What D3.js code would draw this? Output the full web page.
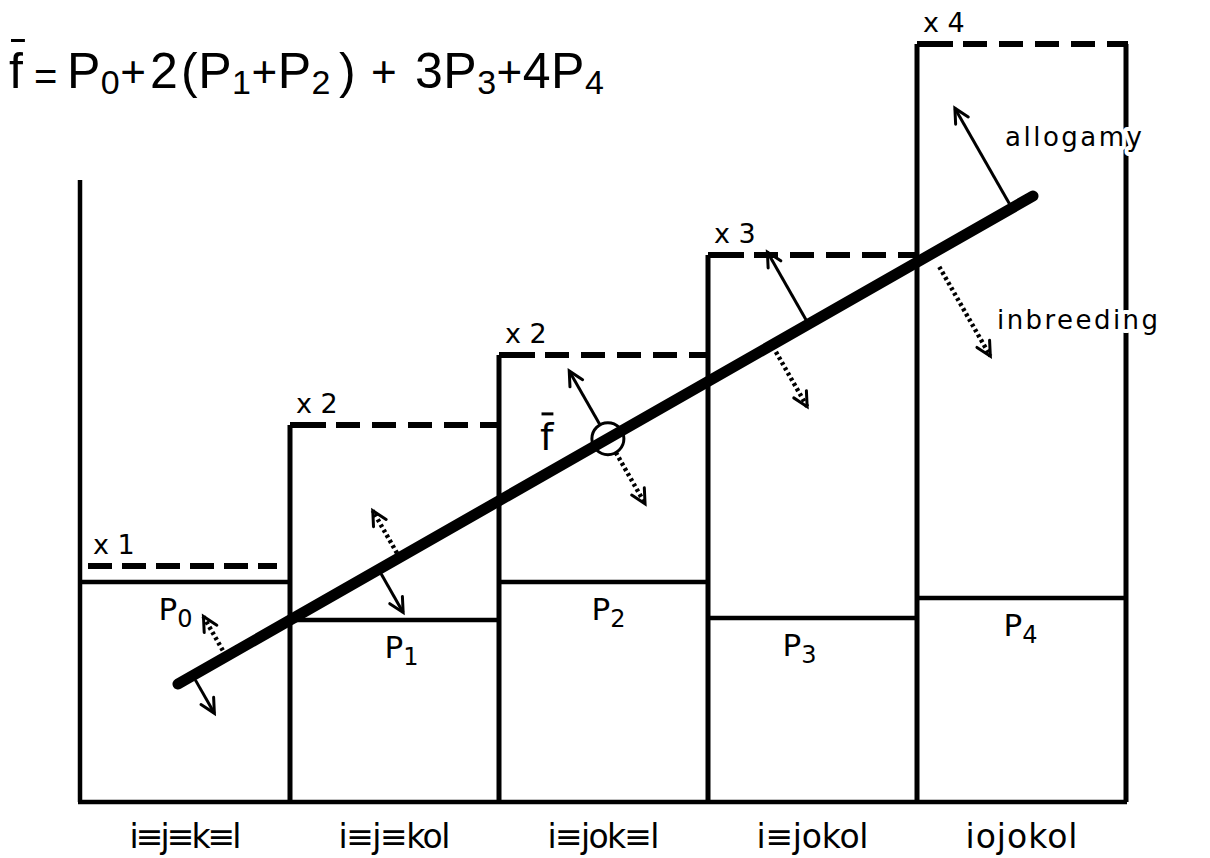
<!DOCTYPE html>
<html>
<head>
<meta charset="utf-8">
<script src="https://cdn.jsdelivr.net/npm/d3@7"></script>
<style>
  html, body { margin: 0; padding: 0; background: #fff; }
  svg { display: block; }
  text { font-family: "DejaVu Sans", sans-serif; fill: #000; }
  text.formula { font-family: "Liberation Sans", Arial, sans-serif; }
</style>
</head>
<body>
<div id="chart"></div>
<script>
// identity classes along the bottom
const categories = ['i≡j≡k≡l', 'i≡j≡kol', 'i≡jok≡l', 'i≡jokol', 'iojokol'];
const probSubs   = ['0', '1', '2', '3', '4'];
// class frequencies P0..P4 (solid tops)
const probs      = [0.220, 0.182, 0.220, 0.184, 0.204];
// weights and weighted heights (dashed tops)
const weightLabels = ['x 1', 'x 2', 'x 2', 'x 3', 'x 4'];
const weighted     = [0.236, 0.377, 0.447, 0.547, 0.758];
// the mean line and f-bar point on it (x in class units)
const fitLine = [[0.464, 0.118], [4.555, 0.606]];
const fBarPos = 2.521;
// arrows normal to the line: pos on line, from/to offset (+ = up side)
const allogamyArrows = [
  { pos: 0.535, from: -0.005, to: -0.0435 },
  { pos: 1.424, from: -0.005, to: -0.0495 },
  { pos: 2.521, from:  0.016, to:  0.078 },
  { pos: 3.481, from:  0.004, to:  0.083 },
  { pos: 4.454, from:  0.005, to:  0.115 }
];
const inbreedingArrows = [
  { pos: 0.695, from:  0.007, to:  0.046 },
  { pos: 1.524, from:  0.005, to:  0.054 },
  { pos: 2.521, from: -0.016, to: -0.075 },
  { pos: 3.306, from: -0.008, to: -0.071 },
  { pos: 4.071, from: -0.015, to: -0.118 }
];

// ---- layout ----
const width = 1210, height = 858;
const yAxisTop = 0.622;
const pLabelShift = [-27, -10, -12, -30, -18];   // P labels sit a bit left of centre
// formula glyphs with wanted left edge; m = main, s = subscript, p = plus, e = equals
const formula = [
  { t: 'f', x: 9, k: 'm' }, { t: '=', x: 34, k: 'e' },
  { t: 'P', x: 67, k: 'm' }, { t: '0', x: 99, k: 's' },
  { t: '+', x: 115, k: 'p' }, { t: '2', x: 150, k: 'm' }, { t: '(', x: 181, k: 'm' },
  { t: 'P', x: 196, k: 'm' }, { t: '1', x: 224, k: 's' },
  { t: '+', x: 241, k: 'p' }, { t: 'P', x: 263, k: 'm' }, { t: '2', x: 292, k: 's' },
  { t: ')', x: 339, k: 'm' }, { t: '+', x: 371, k: 'p' }, { t: '3', x: 415, k: 'm' },
  { t: 'P', x: 437, k: 'm' }, { t: '3', x: 467, k: 's' },
  { t: '+', x: 486, k: 'p' }, { t: '4', x: 521, k: 'm' },
  { t: 'P', x: 548, k: 'm' }, { t: '4', x: 579, k: 's' }
];
const glyphStyle = {
  m: { size: 50, y: 88 }, s: { size: 34, y: 94 },
  p: { size: 44, y: 87 }, e: { size: 40, y: 90 }
};

const svg = d3.select('#chart').append('svg')
  .attr('width', width).attr('height', height)
  .attr('viewBox', `0 0 ${width} ${height}`);

const x = d3.scaleLinear().domain([0, categories.length]).range([81, 1126]);
const y = d3.scaleLinear().domain([0, 0.8]).range([802, 2]);
const off = v => y(0) - y(v);   // value -> pixel length

const cols = categories.map((c, i) => ({
  cat: c, i, p: probs[i], w: weighted[i], sub: probSubs[i], wl: weightLabels[i]
}));

const g = svg.append('g');

// vertical column edges (go up to the taller neighbouring dashed top)
const edges = d3.range(1, categories.length + 1).map(b => ({
  b, top: d3.max([weighted[b - 1], b < weighted.length ? weighted[b] : 0])
}));
g.selectAll('line.edge').data(edges).join('line')
  .attr('class', 'edge')
  .attr('x1', d => x(d.b)).attr('x2', d => x(d.b))
  .attr('y1', y(0)).attr('y2', d => y(d.top))
  .attr('stroke', '#000').attr('stroke-width', 5);

// solid tops = P values
g.selectAll('line.ptop').data(cols).join('line')
  .attr('class', 'ptop')
  .attr('x1', d => x(d.i)).attr('x2', d => x(d.i + 1))
  .attr('y1', d => y(d.p)).attr('y2', d => y(d.p))
  .attr('stroke', '#000').attr('stroke-width', 4.5);

// dashed tops = weighted heights (first one inset)
g.selectAll('line.wtop').data(cols).join('line')
  .attr('class', 'wtop')
  .attr('x1', d => d.i === 0 ? x(0) + 7 : x(d.i))
  .attr('x2', d => d.i === 0 ? x(1) - 13 : x(d.i + 1) + 2)
  .attr('y1', d => y(d.w)).attr('y2', d => y(d.w))
  .attr('stroke', '#000').attr('stroke-width', 6)
  .attr('stroke-dasharray', d => d.i === 0 ? '24,10' : '36,10,24,12,24,12,24,12,24,12,30,8');

// axes
g.append('line')
  .attr('x1', x(0) - 1).attr('x2', x(0) - 1)
  .attr('y1', y(0)).attr('y2', y(yAxisTop))
  .attr('stroke', '#000').attr('stroke-width', 4.5);
g.append('line')
  .attr('x1', x(0) - 3).attr('x2', x(categories.length) + 1)
  .attr('y1', y(0)).attr('y2', y(0))
  .attr('stroke', '#000').attr('stroke-width', 4.5);

// mean line
const A = { x: x(fitLine[0][0]), y: y(fitLine[0][1]) };
const B = { x: x(fitLine[1][0]), y: y(fitLine[1][1]) };
const len = Math.hypot(B.x - A.x, B.y - A.y);
const u = { x: (B.x - A.x) / len, y: (B.y - A.y) / len };
const n = { x: u.y, y: -u.x };  // normal pointing up-left
const foot = pos => {
  const t = (x(pos) - A.x) / (B.x - A.x);
  return { x: A.x + t * (B.x - A.x), y: A.y + t * (B.y - A.y) };
};

g.append('path')
  .attr('d', d3.line()(fitLine.map(p => [x(p[0]), y(p[1])])))
  .attr('stroke', '#000').attr('stroke-width', 11)
  .attr('stroke-linecap', 'round').attr('fill', 'none');

const fp = foot(fBarPos);
g.append('circle')
  .attr('cx', fp.x).attr('cy', fp.y).attr('r', 16)
  .attr('fill', 'none').attr('stroke', '#000').attr('stroke-width', 3);

// arrows
function arrowGeom(d) {
  const f = foot(d.pos);
  const s = { x: f.x + n.x * off(d.from), y: f.y + n.y * off(d.from) };
  const e = { x: f.x + n.x * off(d.to), y: f.y + n.y * off(d.to) };
  const L = Math.hypot(e.x - s.x, e.y - s.y);
  const dir = { x: (e.x - s.x) / L, y: (e.y - s.y) / L };
  const ang = 27 * Math.PI / 180, h = 16;
  const rot = a => ({
    x: e.x - h * (dir.x * Math.cos(a) - dir.y * Math.sin(a)),
    y: e.y - h * (dir.x * Math.sin(a) + dir.y * Math.cos(a))
  });
  return { s, e, l: rot(ang), r: rot(-ang) };
}

function drawArrows(data, cls, shaftWidth, dash) {
  const ag = g.append('g').attr('class', cls);
  const geo = data.map(arrowGeom);
  ag.selectAll('line.shaft').data(geo).join('line')
    .attr('class', 'shaft')
    .attr('x1', d => d.s.x).attr('y1', d => d.s.y)
    .attr('x2', d => d.e.x).attr('y2', d => d.e.y)
    .attr('stroke', '#000').attr('stroke-width', shaftWidth)
    .attr('stroke-dasharray', dash);
  ag.selectAll('path.head').data(geo).join('path')
    .attr('class', 'head')
    .attr('d', d => `M${d.l.x},${d.l.y}L${d.e.x},${d.e.y}L${d.r.x},${d.r.y}`)
    .attr('fill', 'none').attr('stroke', '#000').attr('stroke-width', 3)
    .attr('stroke-linejoin', 'miter').attr('stroke-linecap', 'round');
}
drawArrows(allogamyArrows, 'allogamy', 3, null);
drawArrows(inbreedingArrows, 'inbreeding', 4.5, '3,3');

// ---- text ----
const haloText = sel => sel.style('paint-order', 'stroke')
  .attr('stroke', '#fff').attr('stroke-width', 8).attr('stroke-linejoin', 'round');

// weight labels above dashed tops
g.selectAll('text.wl').data(cols).join('text')
  .attr('class', 'wl')
  .attr('x', d => x(d.i) + (d.i === 0 ? 12 : 6))
  .attr('y', d => y(d.w) - 12)
  .attr('font-size', 27)
  .text(d => d.wl);

// P labels under solid tops
const pl = g.selectAll('text.pl').data(cols).join('text')
  .attr('class', 'pl')
  .attr('x', d => (x(d.i) + x(d.i + 1)) / 2 + pLabelShift[d.i])
  .attr('y', d => y(d.p) + 38)
  .attr('font-size', 31);
pl.append('tspan').text('P');
pl.append('tspan').attr('font-size', 24).attr('dy', 7).text(d => d.sub);

// category labels
g.selectAll('text.cat').data(cols).join('text')
  .attr('class', 'cat')
  .attr('x', d => (x(d.i) + x(d.i + 1)) / 2)
  .attr('y', 848)
  .attr('text-anchor', 'middle')
  .attr('font-size', 33)
  .attr('textLength', 112).attr('lengthAdjust', 'spacing')
  .text(d => d.cat);

// allogamy / inbreeding
g.append('text').attr('x', 1005).attr('y', 146).attr('font-size', 26)
  .attr('textLength', 137).attr('lengthAdjust', 'spacing')
  .call(haloText).text('allogamy');
g.append('text').attr('x', 997).attr('y', 329).attr('font-size', 26)
  .attr('textLength', 161).attr('lengthAdjust', 'spacing')
  .call(haloText).text('inbreeding');

// overbar above an "f"
function overbar(xx, base, size, w) {
  g.append('line')
    .attr('x1', xx + size * 0.04).attr('x2', xx + w)
    .attr('y1', base - size * 0.95).attr('y2', base - size * 0.95)
    .attr('stroke', '#000').attr('stroke-width', 3);
}

// f-bar label by the circle
const fLabel = g.append('text').attr('x', 540).attr('y', 450)
  .attr('font-size', 38).text('f');
overbar(540, 450, 38, fLabel.node().getComputedTextLength());

// formula at the top, one text element; glyphs never overlap the previous one
const ft = g.append('text').attr('class', 'formula');
let nextX = 0;
formula.forEach(s => {
  const st = glyphStyle[s.k];
  const gx = Math.max(s.x, nextX);
  const ts = ft.append('tspan')
    .attr('x', gx).attr('y', st.y)
    .attr('font-size', st.size)
    .text(s.t);
  const adv = ts.node().getComputedTextLength();
  nextX = gx + adv + 0.5;
  if (s.t === 'f') overbar(gx, st.y, st.size, adv + 2);
});
</script>
</body>
</html>
